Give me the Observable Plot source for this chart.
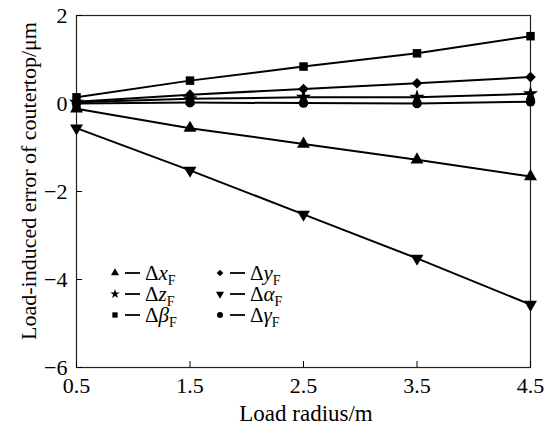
<!DOCTYPE html>
<html><head><meta charset="utf-8">
<script src="https://cdn.jsdelivr.net/npm/d3@7"></script>
<script src="https://cdn.jsdelivr.net/npm/@observablehq/plot@0.6"></script>
<style>
body{margin:0;background:#fff;}
#wrap{position:relative;width:544px;height:426px;font-family:"Liberation Serif","Times New Roman",serif;}
#wrap svg{position:absolute;left:0;top:0;}
</style></head><body>
<div id="wrap"></div>
<script>
const radius = [0.5, 1.5, 2.5, 3.5, 4.5];
const dx_F = [-0.12, -0.56, -0.92, -1.28, -1.66];
const dy_F = [0.04, 0.20, 0.33, 0.46, 0.60];
const dz_F = [0.03, 0.11, 0.14, 0.14, 0.22];
const dalpha_F = [-0.56, -1.52, -2.52, -3.52, -4.57];
const dbeta_F = [0.14, 0.52, 0.84, 1.14, 1.53];
const dgamma_F = [0.0, 0.02, 0.01, 0.0, 0.04];
const xTicks = [0.5, 1.5, 2.5, 3.5, 4.5];
const yTicks = [-6, -4, -2, 0, 2];

const series = [
  {key: "x", sym: "Δ", it: "x", values: dx_F, symbol: "triangle", rotate: 0, r: 4.8},
  {key: "y", sym: "Δ", it: "y", values: dy_F, symbol: "diamond2", rotate: 0, r: 4.8},
  {key: "z", sym: "Δ", it: "z", values: dz_F, symbol: "star", rotate: 0, r: 4.8},
  {key: "alpha", sym: "Δ", it: "α", values: dalpha_F, symbol: "triangle", rotate: 180, r: 4.8},
  {key: "beta", sym: "Δ", it: "β", values: dbeta_F, symbol: "square", rotate: 0, r: 4.8},
  {key: "gamma", sym: "Δ", it: "γ", values: dgamma_F, symbol: "circle", rotate: 0, r: 4.8}
];
const rows = series.flatMap(s => radius.map((x, i) => ({key: s.key, x, y: s.values[i]})));

const marks = [
  Plot.frame({stroke: "#222", strokeWidth: 1.2}),
  Plot.axisX({ticks: xTicks, tickSize: -6, tickPadding: 16, tickFormat: d => d.toFixed(1), fontSize: 22, label: null}),
  Plot.axisY({ticks: yTicks, tickSize: -6, tickPadding: 15, tickFormat: d => d < 0 ? "\u2212" + (-d) : String(d), fontSize: 22, label: null}),
  Plot.line(rows, {x: "x", y: "y", z: "key", stroke: "#000", strokeWidth: 2})
];
for (const s of series) {
  marks.push(Plot.dot(rows.filter(d => d.key === s.key), {x: "x", y: "y", symbol: () => s.symbol, fill: "#000", r: s.r, rotate: s.rotate}));
}

const chart = Plot.plot({
  width: 544, height: 426,
  marginLeft: 76, marginRight: 14, marginTop: 15, marginBottom: 59,
  style: {fontFamily: "Liberation Serif, Times New Roman, serif", fontSize: "22px", color: "#000", background: "transparent"},
  x: {domain: [0.5, 4.5]},
  y: {domain: [-6, 2]},
  symbol: {type: "identity"},
  marks
});
const wrap = document.getElementById("wrap");
wrap.appendChild(chart);

// axis titles + legend overlay
const svg = d3.select(wrap).append("svg").attr("width", 544).attr("height", 426)
  .style("font-family", "Liberation Serif, Times New Roman, serif");
svg.append("text").attr("x", 306).attr("y", 421).attr("text-anchor", "middle")
  .attr("font-size", 23).text("Load radius/m");
svg.append("text").attr("transform", "translate(36,181) rotate(-90)").attr("text-anchor", "middle")
  .attr("font-size", 22).text("Load-induced error of coutertop/μm");

const symMap = {triangle: d3.symbolTriangle, diamond2: d3.symbolDiamond2, star: d3.symbolStar, square: d3.symbolSquare, circle: d3.symbolCircle};
const order = ["x", "y", "z", "alpha", "beta", "gamma"];
const lg = svg.append("g");
order.forEach((k, i) => {
  const s = series.find(d => d.key === k);
  const col = i % 2, row = Math.floor(i / 2);
  const gx = 115 + col * 105, gy = 273 + row * 21;
  const g = lg.append("g").attr("transform", `translate(${gx},${gy})`);
  const area = Math.PI * 3 * 3;
  g.append("path").attr("d", d3.symbol(symMap[s.symbol], area)()).attr("transform", `rotate(${s.rotate})`).attr("fill", "#000");
  g.append("line").attr("x1", 10).attr("x2", 25).attr("y1", 0).attr("y2", 0).attr("stroke", "#000").attr("stroke-width", 1.8);
  const t = g.append("text").attr("x", 30).attr("y", 7).attr("font-size", 21);
  t.append("tspan").text(s.sym);
  t.append("tspan").attr("font-style", "italic").text(s.it);
  t.append("tspan").attr("font-size", 14).attr("dy", 5).text("F");
});
</script></body></html>
